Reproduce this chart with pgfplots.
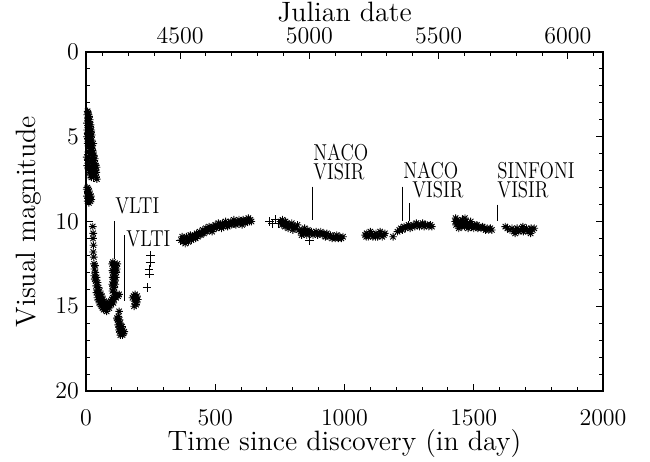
\documentclass[border=0pt]{standalone}
\usepackage{graphicx}
\usepackage{pgfplots}
\pgfplotsset{compat=1.18}
\usetikzlibrary{calc}

% IDL-like asterisk: a plus and a cross on top of each other
\pgfdeclareplotmark{idlast}{%
  \pgfpathmoveto{\pgfqpoint{-\pgfplotmarksize}{0pt}}%
  \pgfpathlineto{\pgfqpoint{\pgfplotmarksize}{0pt}}%
  \pgfpathmoveto{\pgfqpoint{0pt}{-\pgfplotmarksize}}%
  \pgfpathlineto{\pgfqpoint{0pt}{\pgfplotmarksize}}%
  \pgfpathmoveto{\pgfqpoint{-0.707\pgfplotmarksize}{-0.707\pgfplotmarksize}}%
  \pgfpathlineto{\pgfqpoint{0.707\pgfplotmarksize}{0.707\pgfplotmarksize}}%
  \pgfpathmoveto{\pgfqpoint{-0.707\pgfplotmarksize}{0.707\pgfplotmarksize}}%
  \pgfpathlineto{\pgfqpoint{0.707\pgfplotmarksize}{-0.707\pgfplotmarksize}}%
  \pgfusepathqstroke}

\newcommand{\bigf}{\fontsize{14}{16}\selectfont}
\newcommand{\tickf}{\fontsize{13}{15}\selectfont}
\newcommand{\note}[1]{\fontsize{11.5}{12}\selectfont\scalebox{0.82}[1]{#1}}

\begin{document}
\begin{tikzpicture}

\begin{axis}[%
name=main,%
width=258.5pt, height=169.5pt,%
scale only axis,%
xmin=0, xmax=2000,%
ymin=0, ymax=20,%
y dir=reverse,%
xtick={0,500,...,2000},%
minor x tick num=4,%
ytick={0,5,...,20},%
minor y tick num=4,%
xtick pos=left,%
ytick pos=both,%
tick align=inside,%
major tick length=3.5pt,%
minor tick length=2pt,%
every tick/.style={black, line width=0.5pt},%
axis line style={line width=0.6pt},%
/pgf/number format/1000 sep={},%
tick label style={font=\tickf},%
xticklabel style={yshift=-6pt},%
label style={font=\bigf},%
xlabel={Time since discovery (in day)},%
xlabel style={yshift=5pt},%
ylabel={Visual magnitude},%
clip=false]%

% asterisks
\addplot [only marks, mark=idlast, mark size=1.9pt, mark options={line width=0.45pt}] coordinates {
% early maximum
(4,4.2)(5,3.7)(6,3.5)(7,3.9)(8,3.6)(9,4.0)(10,3.7)(11,4.3)(12,3.8)(13,4.1)
(14,4.5)(15,4.0)(16,4.4)(17,4.8)(18,4.3)(19,4.7)(20,5.0)(21,4.6)(22,5.2)(23,4.9)
(4,5.0)(6,5.4)(8,5.9)(10,6.2)(12,5.6)(14,6.0)(16,6.5)(18,5.7)(20,6.3)(22,6.8)
(24,5.5)(26,6.1)(28,6.6)(30,7.0)(32,6.4)(34,6.9)(36,7.3)(38,6.7)(40,7.1)(25,5.8)
(5,4.6)(7,5.1)(9,5.3)(11,5.0)(13,5.5)(15,5.2)(17,5.8)(19,5.5)(21,6.0)(23,5.7)
(25,6.4)(27,6.9)(29,6.2)(31,6.7)(33,7.2)(35,6.6)(37,7.0)(39,7.4)(41,6.8)(27,5.9)
(3,6.2)(5,6.7)(7,6.4)(9,6.9)(11,6.6)(13,7.1)(15,6.8)(17,7.3)(19,7.0)(21,7.4)
(23,7.2)(6,4.8)(10,4.5)(14,4.9)(18,5.3)(24,6.0)(28,5.4)(30,6.1)(34,6.3)(42,7.5)
(3,8.1)(4,8.5)(5,8.0)(6,8.8)(7,8.3)(8,8.6)(9,8.1)(10,8.4)(11,8.9)(12,8.2)
(13,8.6)(15,8.4)(17,8.8)(19,8.5)(21,8.7)
% decline
(26,10.3)(28,10.7)(27,11.0)(29,11.4)(28,11.8)(30,12.1)(31,12.5)(33,12.8)(32,13.2)
(35,12.6)(36,13.0)(34,13.4)
(37,13.5)(39,13.8)(41,13.3)(43,14.0)(45,13.6)(47,14.2)(49,13.9)(51,14.4)(53,14.1)
(55,14.5)(57,14.3)(59,14.7)(61,14.4)(63,14.8)(65,14.6)(67,14.9)(69,14.7)(71,15.0)
(73,14.8)(75,15.1)(77,14.9)(79,15.0)(81,14.8)(83,15.1)(85,14.9)
(40,14.2)(44,14.5)(48,14.6)(52,14.8)(56,14.9)(60,15.0)(64,15.1)(68,15.2)(72,15.1)
(76,15.2)(80,15.3)
(88,14.9)(92,14.8)(96,14.7)(100,14.6)(104,14.5)(108,14.6)(112,14.4)(116,14.5)
(120,14.3)(124,14.4)(128,14.3)(90,15.1)(98,14.9)(106,14.8)
% brightening around day 100-130
(101,12.5)(104,12.4)(107,12.6)(110,12.5)(113,12.7)(116,12.6)(102,12.9)(105,13.0)
(108,12.8)(111,13.1)(114,12.9)(117,13.0)(103,13.3)(106,13.4)(109,13.2)(112,13.5)
(115,13.3)(101,13.7)(104,13.8)(107,13.6)(110,13.9)(113,13.7)(102,14.1)(106,14.0)
(109,14.2)(119,12.8)(121,12.5)
(128,15.3)
(122,15.8)(126,15.9)(130,15.8)(124,16.1)(128,16.2)(132,16.0)(136,16.2)(127,16.4)
(131,16.5)(135,16.3)(139,16.5)(143,16.4)(133,16.7)(137,16.6)(141,16.7)(145,16.6)
(148,16.5)(140,16.2)(125,15.6)(120,15.7)
(180,14.5)(184,14.4)(188,14.7)(192,14.5)(196,14.8)(200,14.6)(186,15.0)(194,14.9)
(190,14.3)(198,14.4)
% recovery
(368,11.1)(372,10.9)(376,11.2)(380,11.0)(384,11.3)(388,10.9)(392,11.1)(396,11.2)
(400,11.0)(404,10.8)(408,11.1)(412,10.9)(416,11.0)(420,10.8)(424,11.0)(428,10.7)
(432,10.9)(436,10.8)(440,10.6)(444,10.8)(448,10.7)(452,10.5)(456,10.7)(460,10.6)
(464,10.4)(468,10.6)(472,10.5)(476,10.3)(480,10.5)(484,10.4)(488,10.6)(492,10.3)
(496,10.4)(500,10.2)(504,10.4)(508,10.3)(512,10.1)(516,10.3)(520,10.2)(524,10.4)
(528,10.1)(532,10.3)(536,10.2)(540,10.0)(544,10.2)(548,10.3)(552,10.1)(556,10.2)
(560,10.0)(564,10.2)(568,10.1)(572,9.9)(576,10.1)(580,10.2)(584,10.0)(588,10.1)
(592,9.9)(596,10.1)(600,10.0)(604,10.2)(608,9.9)(612,10.0)(616,10.1)(620,9.9)
(624,10.0)(628,9.8)(632,10.0)(636,9.9)(640,10.0)
(752,10.0)(758,10.2)(764,10.1)(770,10.3)(776,10.1)(782,10.4)(788,10.2)(794,10.3)
(800,10.5)(806,10.3)(812,10.4)(818,10.2)(824,10.5)(760,9.9)(772,10.0)(784,10.2)
(796,10.1)
(830,10.6)(836,10.5)(842,10.7)(848,10.6)(854,10.8)(860,10.6)(866,10.7)(834,10.8)
(846,10.4)(858,10.5)
(872,10.6)(878,10.8)(884,10.7)(890,10.6)(896,10.8)(902,10.7)(908,10.6)(914,10.8)
(920,10.7)(926,10.9)(932,10.7)
(940,10.9)(946,10.8)(952,11.0)(958,10.9)(964,11.0)(970,10.8)(976,11.0)(982,10.9)
(988,11.0)(994,10.9)
(1080,10.8)(1086,10.7)(1092,10.9)(1098,10.8)(1104,10.7)(1110,10.9)(1116,10.8)
(1122,10.7)(1128,10.9)(1134,10.8)(1140,10.7)(1146,10.9)(1152,10.8)(1084,10.9)
(1100,10.6)(1120,10.9)(1138,10.6)(1156,10.7)
(1188,10.9)
(1205,10.6)(1212,10.5)(1218,10.4)(1224,10.5)(1230,10.3)(1236,10.4)(1242,10.3)
(1248,10.2)(1254,10.4)(1260,10.3)(1266,10.2)(1272,10.3)(1278,10.1)(1284,10.2)
(1290,10.3)(1296,10.2)(1302,10.1)(1308,10.3)(1314,10.2)(1320,10.2)(1326,10.3)
(1332,10.2)(1338,10.3)
(1428,10.0)(1432,10.2)(1436,9.9)(1440,10.1)(1444,10.3)(1448,10.0)(1452,10.2)
(1456,9.9)(1460,10.1)(1464,10.3)(1468,10.0)(1472,10.2)(1476,10.1)(1480,10.3)
(1484,10.2)(1488,10.0)(1492,10.3)(1496,10.2)(1500,10.4)(1504,10.2)(1508,10.3)
(1512,10.2)(1516,10.4)(1520,10.3)(1430,9.8)(1442,10.4)(1454,10.3)(1466,9.8)
(1478,10.4)
(1528,10.4)(1534,10.3)(1540,10.4)(1546,10.5)(1552,10.4)(1558,10.5)(1564,10.4)
(1570,10.5)
(1622,10.3)(1630,10.4)(1640,10.5)(1648,10.4)(1656,10.6)(1662,10.5)(1668,10.4)
(1674,10.6)(1680,10.5)(1686,10.4)(1692,10.6)(1698,10.5)(1704,10.4)(1710,10.6)
(1716,10.5)(1722,10.4)(1728,10.5)(1734,10.4)(1660,10.7)(1690,10.3)(1720,10.7)
};

% plus signs
\addplot [only marks, mark=+, mark size=2.2pt, mark options={line width=0.45pt}] coordinates {
(27,7.4)(236,13.9)(245,13.1)(244,12.8)(248,12.4)(251,12.0)(364,11.1)
(710,10.0)(722,10.1)(734,9.9)(746,10.1)(866,11.1)
};

% observation markers
\draw [line width=0.5pt] (axis cs:110,10.0) -- (axis cs:110,12.2);
\draw [line width=0.5pt] (axis cs:147,10.8) -- (axis cs:147,14.7);
\draw [line width=0.5pt] (axis cs:878,7.95) -- (axis cs:878,9.9);
\draw [line width=0.5pt] (axis cs:1226,7.95) -- (axis cs:1226,10.0);
\draw [line width=0.5pt] (axis cs:1253,8.9) -- (axis cs:1253,10.0);
\draw [line width=0.5pt] (axis cs:1590,9.0) -- (axis cs:1590,10.0);

\node [anchor=west, inner sep=0pt] at (axis cs:112,9.1) {\note{VLTI}};
\node [anchor=west, inner sep=0pt] at (axis cs:155,11.0) {\note{VLTI}};
\node [anchor=west, inner sep=0pt] at (axis cs:878,5.95) {\note{NACO}};
\node [anchor=west, inner sep=0pt] at (axis cs:878,7.05) {\note{VISIR}};
\node [anchor=west, inner sep=0pt] at (axis cs:1226,7.0) {\note{NACO}};
\node [anchor=west, inner sep=0pt] at (axis cs:1261,8.1) {\note{VISIR}};
\node [anchor=west, inner sep=0pt] at (axis cs:1590,7.0) {\note{SINFONI}};
\node [anchor=west, inner sep=0pt] at (axis cs:1590,8.1) {\note{VISIR}};

\end{axis}

% Julian date along the top
\begin{axis}[%
at={(main.south west)}, anchor=south west,%
width=258.5pt, height=169.5pt,%
scale only axis,%
xmin=4136, xmax=6136,%
ymin=0, ymax=1,%
hide y axis,%
xtick={4500,5000,5500,6000},%
minor xtick={4200,4300,4400,4600,4700,4800,4900,5100,5200,5300,5400,5600,5700,5800,5900,6100},%
xtick pos=right,%
xticklabel pos=right,%
tick align=inside,%
major tick length=3.5pt,%
minor tick length=2pt,%
every tick/.style={black, line width=0.5pt},%
axis line style={line width=0.6pt},%
/pgf/number format/1000 sep={},%
tick label style={font=\tickf},%
xticklabel style={yshift=0.5pt},%
label style={font=\bigf},%
xlabel={Julian date},%
xlabel style={yshift=-3.5pt}]
\end{axis}

\pgfresetboundingbox
\path [use as bounding box] ($(main.south west)+(-43pt,-35.5pt)$) rectangle ($(main.north east)+(23.5pt,26pt)$);

\end{tikzpicture}
\end{document}
